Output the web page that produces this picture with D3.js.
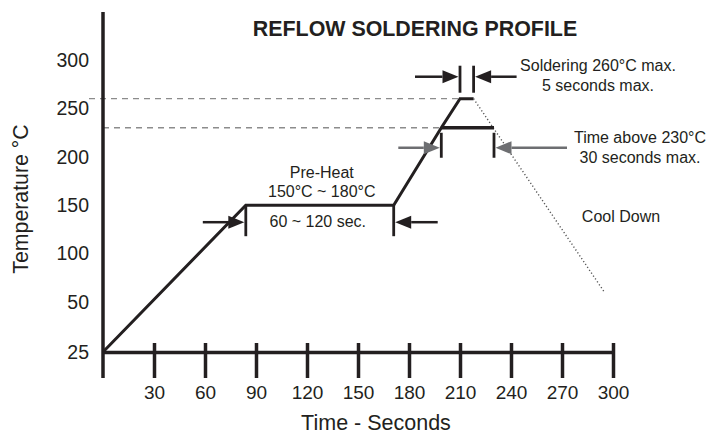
<!DOCTYPE html>
<html><head><meta charset="utf-8">
<script src="https://cdn.jsdelivr.net/npm/d3@7"></script>
<style>
body{margin:0;background:#fff}
svg text{font-family:"Liberation Sans",Arial,Helvetica,sans-serif;fill:#231f20}
</style>
</head><body>
<svg id="c" width="721" height="434"></svg>
<script>
// ---- data ----
const profileTimes = [0, 84, 171, 199, 210, 218];
const profileTemps = [25, 150, 150, 230, 260, 260];
const coolTimes = [218, 295];
const coolTemps = [260, 60];
const preheatTimes = [84, 171];
const preheatTemp = 150;
const peakTimes = [210, 218];
const peakTemp = 260;
const aboveTimes = [199, 230];
const aboveTemp = 230;
const xTicks = [30, 60, 90, 120, 150, 180, 210, 240, 270, 300];
const yTicks = [25, 50, 100, 150, 200, 250, 300];
const titleText = "REFLOW SOLDERING PROFILE";
const xTitle = "Time - Seconds";
const yTitle = "Temperature °C";
const preheatLabels = ["Pre-Heat", "150°C ~ 180°C", "60 ~ 120 sec."];
const peakLabels = ["Soldering 260°C max.", "5 seconds max."];
const aboveLabels = ["Time above 230°C", "30 seconds max."];
const coolLabel = "Cool Down";

// ---- setup ----
const ink = "#231f20", gray = "#6d6e71", dashGray = "#8c8c8c";
const svg = d3.select("#c");
const x = d3.scaleLinear().domain([0, 300]).range([103, 613]);
const y = d3.scaleLinear().domain([25, 50, 300]).range([352, 302, 60]);

// dashed reference lines
svg.append("line")
  .attr("x1", x(0) - 14).attr("x2", x(peakTimes[0]))
  .attr("y1", y(peakTemp)).attr("y2", y(peakTemp))
  .attr("stroke", dashGray).attr("stroke-width", 1.3).attr("stroke-dasharray", "6,5");
svg.append("line")
  .attr("x1", x(0)).attr("x2", x(aboveTimes[0]))
  .attr("y1", y(aboveTemp)).attr("y2", y(aboveTemp))
  .attr("stroke", dashGray).attr("stroke-width", 1.3).attr("stroke-dasharray", "6,5");

// x axis
const xAxis = d3.axisBottom(x).tickValues(xTicks).tickSize(26).tickSizeOuter(0).tickFormat(d3.format("d"));
const gx = svg.append("g").attr("transform", `translate(0,${y(25)})`).call(xAxis);
gx.select(".domain").attr("stroke", ink).attr("stroke-width", 3.5);
gx.selectAll(".tick line").attr("y1", -9).attr("y2", 26).attr("stroke", ink).attr("stroke-width", 3.5);
gx.selectAll(".tick text").attr("y", 47).attr("dy", 0).attr("font-size", 19).attr("fill", ink);
gx.attr("font-family", null).attr("font-size", null);

// y axis
const yAxis = d3.axisLeft(y).tickValues(yTicks).tickSize(0).tickPadding(14);
const gy = svg.append("g").attr("transform", `translate(${x(0)},0)`).call(yAxis);
gy.select(".domain").remove();
gy.selectAll(".tick text").attr("font-size", 19.5).attr("fill", ink);
gy.attr("font-family", null).attr("font-size", null);
svg.append("line")
  .attr("x1", x(0)).attr("x2", x(0))
  .attr("y1", y(300) - 48).attr("y2", y(25) + 26)
  .attr("stroke", ink).attr("stroke-width", 3.5);

// profile
const line = d3.line().x(d => x(d[0])).y(d => y(d[1]));
svg.append("path")
  .attr("d", line(profileTimes.map((t, i) => [t, profileTemps[i]])))
  .attr("fill", "none").attr("stroke", ink).attr("stroke-width", 3).attr("stroke-linejoin", "miter");
svg.append("path")
  .attr("d", line(coolTimes.map((t, i) => [t, coolTemps[i]])))
  .attr("fill", "none").attr("stroke", "#555").attr("stroke-width", 1.4).attr("stroke-dasharray", "1.2,2.3");
svg.append("line")
  .attr("x1", x(aboveTimes[0])).attr("x2", x(aboveTimes[1]))
  .attr("y1", y(aboveTemp)).attr("y2", y(aboveTemp))
  .attr("stroke", ink).attr("stroke-width", 3.5);

// marker helpers
function vbar(t, y1, y2) {
  svg.append("line").attr("x1", x(t)).attr("x2", x(t)).attr("y1", y1).attr("y2", y2)
    .attr("stroke", ink).attr("stroke-width", 2.8);
}
function arrow(x1, x2, yy, color) {
  const dir = Math.sign(x2 - x1), head = 16, hw = 6.5;
  svg.append("line").attr("x1", x1).attr("x2", x2 - dir * head).attr("y1", yy).attr("y2", yy)
    .attr("stroke", color).attr("stroke-width", 2.5);
  svg.append("path")
    .attr("d", `M${x2},${yy}L${x2 - dir * head},${yy - hw}L${x2 - dir * head},${yy + hw}Z`)
    .attr("fill", color);
}

// preheat markers
vbar(preheatTimes[0], y(preheatTemp), y(preheatTemp) + 31);
vbar(preheatTimes[1], y(preheatTemp), y(preheatTemp) + 31);
arrow(x(preheatTimes[0]) - 43, x(preheatTimes[0]) - 1.5, y(preheatTemp) + 17, ink);
arrow(x(preheatTimes[1]) + 44, x(preheatTimes[1]) + 1.5, y(preheatTemp) + 17, ink);

// peak markers
vbar(peakTimes[0], y(peakTemp) - 33, y(peakTemp) - 6);
vbar(peakTimes[1], y(peakTemp) - 33, y(peakTemp) - 6);
arrow(x(peakTimes[0]) - 45, x(peakTimes[0]) - 1.5, y(peakTemp) - 22, ink);
arrow(x(peakTimes[1]) + 43, x(peakTimes[1]) + 1.5, y(peakTemp) - 22, ink);

// above-230 markers
vbar(aboveTimes[0], y(aboveTemp) + 5, y(aboveTemp) + 30);
vbar(aboveTimes[1], y(aboveTemp) + 5, y(aboveTemp) + 30);
arrow(x(aboveTimes[0]) - 43, x(aboveTimes[0]) - 1.5, y(aboveTemp) + 20, gray);
arrow(x(aboveTimes[1]) + 73, x(aboveTimes[1]) + 1.5, y(aboveTemp) + 20, gray);

// texts
function txt(s, tx, ty, size, weight) {
  return svg.append("text").attr("x", tx).attr("y", ty).attr("text-anchor", "middle")
    .attr("font-size", size).attr("font-weight", weight || "normal").text(s);
}
txt(titleText, 415, 36, 21.4, "bold");
txt(xTitle, 376, 430, 21.5);
svg.append("text").attr("transform", "translate(28,199) rotate(-90)")
  .attr("text-anchor", "middle").attr("font-size", 21.3).text(yTitle);

const pcx = (x(preheatTimes[0]) + x(preheatTimes[1])) / 2;
txt(preheatLabels[0], pcx + 2, y(preheatTemp) - 27, 16);
txt(preheatLabels[1], pcx + 2, y(preheatTemp) - 8, 16);
txt(preheatLabels[2], pcx - 2, y(preheatTemp) + 22, 16);

txt(peakLabels[0], 598, y(peakTemp) - 28, 16);
txt(peakLabels[1], 598, y(peakTemp) - 8, 16);
txt(aboveLabels[0], 640, y(aboveTemp) + 15, 16);
txt(aboveLabels[1], 640, y(aboveTemp) + 35, 16);
txt(coolLabel, 621, 222, 16);
</script>
</body></html>
